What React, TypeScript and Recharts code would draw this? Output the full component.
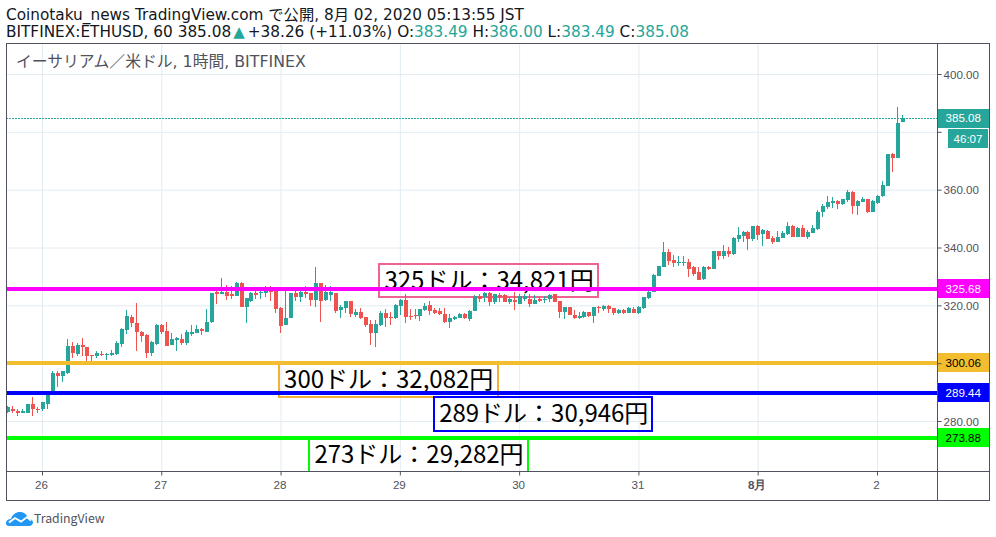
import React from "react";
import {
  ComposedChart,
  Bar,
  XAxis,
  YAxis,
  CartesianGrid,
  ReferenceLine,
  ReferenceArea,
} from "recharts";

// hourly candles, oldest first
const opens = [
  283.2, 284.5, 283.8, 283.1, 283.1, 285.9, 284.5, 284.2, 286.2, 290.0,
  296.9, 295.9, 296.9, 306.2, 303.5, 306.6, 305.9, 303.1, 302.5, 303.5,
  303.1, 303.1, 303.5, 306.9, 311.7, 316.2, 314.2, 311.1, 310.0, 303.8,
  306.9, 313.5, 311.4, 306.6, 308.3, 308.7, 307.3, 310.4, 310.7, 312.1,
  311.1, 314.5, 324.9, 324.2, 324.9, 324.2, 323.5, 328.0, 319.7, 321.8,
  324.5, 324.3, 324.5, 325.2, 325.2, 319.3, 313.5, 315.9, 324.5, 323.1,
  324.9, 324.5, 322.1, 328.0, 322.1, 323.8, 324.3, 318.7, 319.3, 321.8,
  316.9, 318.0, 316.2, 313.8, 310.7, 313.5, 317.6, 316.2, 315.9, 320.0,
  322.1, 316.6, 316.9, 316.6, 318.7, 320.4, 318.7, 318.3, 317.3, 314.5,
  315.6, 315.9, 317.3, 315.6, 318.3, 323.4, 322.9, 324.5, 321.5, 323.8,
  323.8, 321.5, 322.1, 320.7, 322.4, 322.4, 320.7, 322.4, 322.1, 322.4,
  324.1, 321.8, 318.0, 319.7, 316.9, 315.9, 316.2, 318.0, 316.6, 319.7,
  318.9, 320.0, 319.3, 317.6, 318.7, 317.6, 319.0, 317.6, 319.3, 322.8,
  324.9, 330.4, 333.5, 338.7, 335.9, 334.9, 334.9, 335.2, 333.5, 331.6,
  329.4, 333.5, 332.8, 338.9, 337.3, 338.9, 338.0, 343.1, 344.2, 345.5,
  343.1, 347.6, 344.9, 345.9, 343.5, 342.1, 343.5, 344.9, 347.6, 343.8,
  346.9, 343.8, 345.2, 346.6, 352.4, 354.1, 355.5, 356.2, 355.2, 356.6,
  359.3, 354.5, 355.9, 356.9, 352.4, 355.5, 357.9, 361.4, 372.4, 371.0,
  383.49,
];
const highs = [
  285.3, 285.5, 284.4, 284.4, 286.2, 288.6, 285.0, 286.8, 290.7, 297.6,
  297.6, 297.6, 308.7, 307.6, 307.3, 309.0, 305.9, 303.1, 304.5, 304.5,
  303.8, 304.9, 308.0, 312.4, 318.6, 316.9, 321.1, 311.4, 310.4, 308.0,
  313.8, 313.8, 314.5, 310.7, 309.3, 310.4, 311.8, 313.5, 313.5, 312.4,
  319.0, 324.5, 326.1, 329.7, 327.3, 326.9, 328.3, 328.3, 322.7, 324.9,
  325.9, 326.6, 326.9, 326.9, 325.2, 319.7, 325.2, 324.5, 325.2, 325.2,
  326.9, 324.5, 333.5, 328.0, 327.3, 326.9, 324.5, 320.4, 321.8, 321.8,
  319.0, 319.3, 316.2, 315.2, 315.2, 318.3, 319.0, 318.0, 320.7, 322.4,
  324.2, 319.0, 319.0, 319.0, 321.1, 321.8, 319.3, 319.3, 319.3, 317.3,
  316.6, 317.6, 317.6, 318.7, 323.7, 324.1, 324.9, 324.8, 324.1, 324.6,
  324.1, 323.1, 324.9, 324.1, 324.1, 324.1, 323.8, 323.1, 323.5, 324.1,
  324.1, 321.8, 319.7, 319.7, 318.7, 318.0, 318.3, 318.0, 319.7, 320.0,
  320.4, 320.4, 319.3, 318.9, 319.0, 319.7, 319.7, 320.0, 323.1, 325.2,
  331.0, 333.8, 342.1, 339.6, 337.6, 337.2, 337.3, 336.2, 333.8, 333.6,
  333.9, 333.9, 339.1, 338.9, 341.1, 340.3, 343.9, 347.3, 345.9, 345.9,
  347.6, 347.9, 346.6, 346.2, 344.0, 345.9, 345.9, 349.0, 348.0, 347.3,
  348.0, 346.2, 348.0, 353.1, 355.2, 357.9, 357.6, 356.6, 356.9, 360.0,
  359.6, 356.6, 357.6, 356.9, 356.6, 358.3, 363.1, 372.4, 372.7, 388.6,
  386.0,
];
const lows = [
  283.0, 283.0, 281.8, 282.8, 282.8, 281.8, 282.8, 283.8, 284.5, 289.7,
  292.1, 293.8, 296.6, 302.1, 302.8, 302.8, 300.7, 300.7, 301.8, 302.5,
  301.4, 302.8, 303.1, 305.6, 310.4, 312.8, 304.5, 307.6, 301.8, 302.8,
  306.6, 310.4, 306.2, 306.6, 304.5, 306.6, 306.6, 309.7, 310.7, 310.0,
  311.1, 314.2, 320.7, 324.2, 322.1, 322.4, 323.5, 319.7, 314.2, 321.4,
  322.4, 322.4, 323.1, 321.8, 317.6, 310.7, 313.5, 315.9, 321.8, 321.4,
  322.8, 320.0, 319.7, 314.5, 321.8, 321.8, 317.6, 315.9, 317.6, 316.2,
  316.2, 315.4, 312.8, 306.6, 305.6, 313.1, 312.8, 313.5, 315.6, 316.9,
  314.2, 315.2, 315.6, 314.9, 318.3, 316.9, 317.3, 316.9, 314.2, 312.4,
  315.2, 315.9, 315.6, 314.9, 318.3, 321.2, 321.5, 320.0, 320.8, 321.5,
  321.3, 320.6, 318.7, 320.7, 321.8, 319.7, 320.7, 321.3, 321.1, 321.5,
  321.5, 315.7, 315.6, 316.9, 315.6, 315.6, 315.9, 316.2, 314.2, 317.7,
  318.3, 317.6, 316.9, 317.2, 317.2, 317.6, 317.4, 317.3, 319.0, 322.3,
  324.9, 330.4, 333.5, 334.2, 333.5, 333.8, 333.8, 330.0, 330.4, 329.0,
  329.0, 332.5, 332.8, 335.9, 336.2, 336.9, 337.6, 342.1, 342.1, 339.4,
  342.4, 342.8, 340.7, 343.1, 341.4, 342.1, 343.5, 344.5, 343.8, 343.8,
  343.8, 343.1, 345.2, 346.2, 350.7, 353.5, 353.8, 353.5, 354.8, 355.9,
  351.7, 351.4, 355.9, 352.1, 352.4, 355.2, 357.6, 361.4, 366.2, 371.0,
  383.49,
];
const closes = [
  284.9, 283.5, 283.1, 283.5, 286.1, 284.5, 284.2, 286.6, 289.7, 296.9,
  295.9, 297.3, 306.2, 303.8, 306.6, 305.6, 302.8, 302.5, 303.8, 303.1,
  303.5, 303.8, 307.3, 312.1, 316.6, 314.2, 311.1, 309.7, 303.8, 307.6,
  313.5, 311.1, 306.2, 308.7, 309.0, 307.3, 311.1, 311.1, 312.1, 311.4,
  314.5, 324.5, 324.2, 324.9, 323.5, 323.4, 328.0, 319.7, 322.7, 324.5,
  323.8, 324.9, 325.2, 324.9, 318.9, 313.1, 315.9, 324.5, 323.1, 324.9,
  324.2, 322.1, 328.0, 321.8, 324.9, 324.9, 318.3, 319.7, 321.8, 317.2,
  318.0, 315.9, 313.5, 310.7, 313.8, 317.6, 315.9, 315.9, 320.4, 322.1,
  316.2, 316.2, 316.6, 319.0, 320.0, 318.3, 317.6, 317.3, 314.5, 315.9,
  316.2, 317.3, 315.9, 318.3, 323.5, 322.4, 324.5, 321.5, 324.1, 323.1,
  321.5, 322.4, 321.5, 323.4, 323.4, 320.7, 322.1, 321.8, 322.4, 323.8,
  321.5, 318.0, 319.7, 316.9, 315.8, 316.6, 318.0, 316.6, 319.7, 319.1,
  320.0, 318.9, 317.6, 318.7, 317.6, 319.3, 317.6, 319.7, 322.9, 324.9,
  330.7, 333.8, 338.7, 335.6, 334.9, 335.2, 335.2, 332.8, 331.1, 329.0,
  333.5, 332.8, 338.9, 337.3, 338.9, 338.0, 343.5, 344.5, 345.5, 343.1,
  347.6, 344.5, 346.2, 343.1, 342.1, 343.8, 345.2, 347.6, 343.8, 346.9,
  343.8, 345.5, 346.9, 352.4, 354.5, 355.9, 356.2, 355.2, 356.9, 359.3,
  354.5, 356.2, 356.9, 352.4, 356.2, 357.9, 361.7, 372.4, 371.0, 383.4,
  385.08,
];

const dayTicks = [7, 31, 55, 79, 103, 127, 151, 175];
const dayLabels = ["26", "27", "28", "29", "30", "31", "8月", "2"];
const priceTicks = [280, 300, 320, 340, 360, 380, 400];
// these two sit under a price tag on the scale, so only the tick mark shows
const hiddenPriceLabels = [300, 380];

const candles = opens.map((open, i) => ({
  hour: i,
  open,
  high: highs[i],
  low: lows[i],
  close: closes[i],
}));

const UP = "#26a69a";
const DOWN = "#ef5350";
const TEXT = "#50535e";
const GRID = "#e1ecf2";
const FONT = "'Noto Sans CJK JP', 'Noto Sans', sans-serif";
const HEADER_FONT = "'DejaVu Sans', 'Noto Sans CJK JP', sans-serif";
const SCALE_FONT = "'Liberation Sans', sans-serif";

const Candle = (props: any) => {
  const { x, y, width, height, payload } = props;
  const color = payload.close >= payload.open ? UP : DOWN;
  const perDollar = height / (payload.high - payload.low);
  const top = y + (payload.high - Math.max(payload.open, payload.close)) * perDollar;
  const bodyHeight = Math.max(Math.abs(payload.open - payload.close) * perDollar, 1);
  const mid = Math.floor(x + width / 2);
  return (
    <g shapeRendering="crispEdges">
      <rect x={mid} y={y} width={1} height={height} fill={color} />
      <rect x={mid - 1.5} y={top} width={4} height={bodyHeight} fill={color} />
    </g>
  );
};

const PriceTag = ({ viewBox, text, fill, color }: any) => (
  <g>
    <rect
      x={viewBox.x + viewBox.width}
      y={viewBox.y - 9.5}
      width={51}
      height={19}
      fill={fill}
      shapeRendering="crispEdges"
    />
    <text
      x={viewBox.x + viewBox.width + 8}
      y={viewBox.y + 4}
      fontSize={11.6}
      fontFamily={SCALE_FONT}
      fill={color}
    >
      {text}
    </text>
  </g>
);

const BoxText = ({ viewBox, text }: any) => (
  <text
    x={viewBox.x + 5.5}
    y={viewBox.y + 25}
    fontSize={24}
    fontFamily={FONT}
    fill="#000"
  >
    {text}
  </text>
);

const DayTick = ({ x, y, payload }: any) => {
  const label = dayLabels[dayTicks.indexOf(payload.value)];
  return (
    <text
      x={x - 1}
      y={y + 11}
      textAnchor="middle"
      fontSize={11.6}
      fontFamily={SCALE_FONT}
      fontWeight={label === "8月" ? 700 : 400}
      fill={TEXT}
    >
      {label}
    </text>
  );
};

const headerLine = { position: "absolute", left: 6, fontSize: 15.3, lineHeight: "18px", color: "#131722", whiteSpace: "nowrap", fontFamily: HEADER_FONT } as const;

export default function App() {
  return (
    <div style={{ position: "absolute", left: 0, top: 0, width: 996, height: 537, background: "#fff", fontFamily: FONT, overflow: "hidden" }}>
      <div style={{ ...headerLine, top: 6 }}>
        Coinotaku_news TradingView.com で公開, 8月 02, 2020 05:13:55 JST
      </div>
      <div style={{ ...headerLine, top: 23 }}>
        BITFINEX:ETHUSD, 60 385.08
        <span style={{ color: UP, fontSize: 15, margin: "0 3px 0 2px" }}>▲</span>
        +38.26 (+11.03%) O:<span style={{ color: UP }}>383.49</span> H:<span style={{ color: UP }}>386.00</span> L:<span style={{ color: UP }}>383.49</span> C:<span style={{ color: UP }}>385.08</span>
      </div>

      <ComposedChart
        width={996}
        height={537}
        data={candles}
        margin={{ top: 43.5, right: 6.5, bottom: 36.5, left: 6.5 }}
        style={{ position: "absolute", left: 0, top: 0 }}
      >
        <CartesianGrid stroke={GRID} strokeWidth={1} />
        <XAxis
          dataKey="hour"
          type="number"
          domain={[-0.243, 187.08]}
          ticks={dayTicks}
          interval={0}
          height={29}
          tick={<DayTick />}
          tickSize={4}
          axisLine={{ stroke: TEXT }}
          tickLine={{ stroke: TEXT }}
          allowDataOverflow
        />
        <YAxis
          orientation="right"
          type="number"
          domain={[262.72, 410.72]}
          ticks={priceTicks}
          interval={0}
          width={52}
          tickSize={4}
          tickFormatter={(v: number) => (hiddenPriceLabels.includes(v) ? "" : v.toFixed(2))}
          tick={{ fontSize: 11.6, fontFamily: SCALE_FONT, fill: TEXT }}
          axisLine={{ stroke: TEXT }}
          tickLine={{ stroke: TEXT }}
          allowDataOverflow
        />
        <Bar
          dataKey={(d: any) => [d.low, d.high]}
          barSize={5}
          shape={<Candle />}
          isAnimationActive={false}
        />
        <ReferenceLine
          y={384.8}
          stroke={UP}
          strokeDasharray="2 1"
          shapeRendering="crispEdges"
          label={<PriceTag text="385.08" fill={UP} color="#fff" />}
        />
        <ReferenceLine
          y={325.83}
          stroke="#ff00ff"
          strokeWidth={4}
          shapeRendering="crispEdges"
          label={<PriceTag text="325.68" fill="#ff00ff" color="#fff" />}
        />
        <ReferenceLine
          y={300.24}
          stroke="#f2bd2f"
          strokeWidth={4}
          shapeRendering="crispEdges"
          label={<PriceTag text="300.06" fill="#f2bd2f" color="#000" />}
        />
        <ReferenceLine
          y={289.87}
          stroke="#0000ff"
          strokeWidth={4}
          shapeRendering="crispEdges"
          label={<PriceTag text="289.44" fill="#0000ff" color="#fff" />}
        />
        <ReferenceLine
          y={274.31}
          stroke="#00ff00"
          strokeWidth={4}
          shapeRendering="crispEdges"
          label={<PriceTag text="273.88" fill="#00ff00" color="#000" />}
        />
        <ReferenceArea
          x1={74.7}
          x2={118.7}
          y1={323.06}
          y2={334.5}
          fillOpacity={0}
          stroke="#f06292"
          strokeWidth={2}
          shapeRendering="crispEdges"
          label={<BoxText text="325ドル：34,821円" />}
        />
        <ReferenceArea
          x1={54.5}
          x2={98.6}
          y1={288.5}
          y2={300.2}
          fillOpacity={0}
          stroke="#f2b134"
          strokeWidth={2}
          shapeRendering="crispEdges"
          label={<BoxText text="300ドル：32,082円" />}
        />
        <ReferenceArea
          x1={85.7}
          x2={129.7}
          y1={276.7}
          y2={288.6}
          fillOpacity={0}
          stroke="#0000ff"
          strokeWidth={2}
          shapeRendering="crispEdges"
          label={<BoxText text="289ドル：30,946円" />}
        />
        <ReferenceArea
          x1={60.6}
          x2={104.6}
          y1={250}
          y2={274.3}
          ifOverflow="hidden"
          fillOpacity={0}
          stroke="#00ff00"
          strokeWidth={2}
          shapeRendering="crispEdges"
          label={<BoxText text="273ドル：29,282円" />}
        />
      </ComposedChart>

      {/* frame round the panes */}
      <div style={{ position: "absolute", left: 6, top: 43, width: 982, height: 456, border: `1px solid ${TEXT}`, pointerEvents: "none" }} />
      <div style={{ position: "absolute", left: 937, top: 471, width: 52, height: 1, background: TEXT }} />
      <div style={{ position: "absolute", left: 937, top: 471, width: 1, height: 29, background: TEXT }} />

      <div style={{ position: "absolute", left: 948, top: 129, width: 40, height: 19, background: UP, color: "#fff", fontSize: 11.6, fontFamily: SCALE_FONT, lineHeight: "19px", textAlign: "center" }}>
        46:07
      </div>

      <div style={{ position: "absolute", left: 16, top: 52, fontSize: 15.8, lineHeight: "20px", color: TEXT, whiteSpace: "nowrap", fontFamily: HEADER_FONT }}>
        イーサリアム／米ドル, 1時間, BITFINEX
      </div>

      <svg style={{ position: "absolute", left: 6, top: 511 }} width={27} height={15} viewBox="0 0 27 17" preserveAspectRatio="none">
        <path d="M0 14 C0 10 3 9 5 9 C6 4 10 1 14 1 C18 1 21 4 22 8 C25 9 27 11 27 13 C27 15 25 17 23 17 L3 17 C1 17 0 16 0 14 Z" fill="#2196f3" />
        <path d="M3 13 L9 8 L15 12 L21 7 L25 11" fill="none" stroke="#fff" strokeWidth={2} />
      </svg>
      <div style={{ position: "absolute", left: 34, top: 509, fontSize: 12.3, lineHeight: "18px", color: TEXT, whiteSpace: "nowrap" }}>
        TradingView
      </div>
    </div>
  );
}
